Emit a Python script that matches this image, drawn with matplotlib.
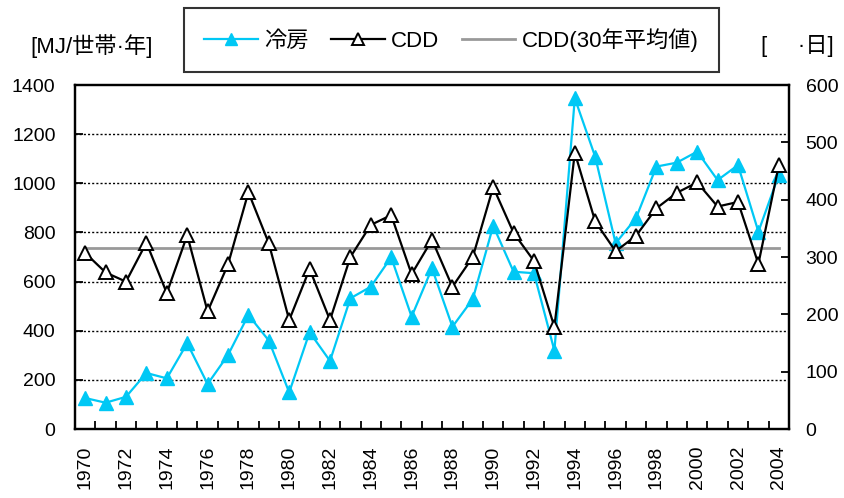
import matplotlib
matplotlib.use('Agg')
import matplotlib.pyplot as plt
import numpy as np

plt.rcParams['font.family'] = ['Liberation Sans', 'Noto Sans CJK JP', 'DejaVu Sans']

years = list(range(1970, 2005))

# cooling energy per household [MJ/household-year]
cooling = [126, 107, 131, 228, 206, 349, 183, 301, 464, 360,
           149, 394, 277, 532, 579, 699, 457, 654, 416, 529,
           827, 640, 634, 319, 1346, 1108, 756, 858, 1068, 1084,
           1129, 1013, 1074, 803, 1034]

# cooling degree days
cdd = [307, 273, 257, 325, 237, 338, 205, 287, 413, 324,
       190, 279, 190, 300, 356, 373, 270, 330, 248, 300,
       422, 342, 293, 178, 482, 362, 310, 337, 385, 412,
       430, 388, 396, 288, 460]

cdd_mean = 315

cyan = '#00C8F5'

fig = plt.figure(figsize=(8.44, 4.98), dpi=100)
ax = fig.add_axes([75 / 844, 1 - 429 / 498, (789 - 75) / 844, (429 - 85) / 498])
ax2 = ax.twinx()

x = np.arange(len(years))

l1, = ax.plot(x, cooling, color=cyan, lw=1.6, marker='^', markersize=10,
              markerfacecolor=cyan, markeredgecolor=cyan, label='冷房')
l3, = ax2.plot([x[0], x[-1]], [cdd_mean, cdd_mean], color='#999999', lw=2,
               label='CDD(30年平均値)')
l2, = ax2.plot(x, cdd, color='black', lw=1.6, marker='^', markersize=10,
               markerfacecolor='white', markeredgecolor='black', markeredgewidth=1.4,
               label='CDD')

ax.set_xlim(-0.5, len(years) - 0.5)
ax.set_ylim(0, 1400)
ax2.set_ylim(0, 600)

ax.set_yticks(range(0, 1401, 200))
ax2.set_yticks(range(0, 601, 100))
for v in range(200, 1400, 200):
    ax.axhline(v, color='black', lw=1, ls=(0, (1.5, 1.5)), zorder=0)

ax.set_xticks(x[::2])
ax.set_xticklabels([str(y) for y in years[::2]], rotation=90)
ax.set_xticks(np.arange(-0.5, len(years), 1), minor=True)

ax.tick_params(axis='x', which='major', length=0, pad=12, labelsize=14)
ax.tick_params(axis='x', which='minor', direction='in', length=6, width=1.3)
ax.tick_params(axis='y', direction='in', length=6, width=1.3, labelsize=14, pad=14)
ax2.tick_params(axis='y', direction='in', length=6, width=1.3, labelsize=14, pad=12)

for a in (ax, ax2):
    for s in a.spines.values():
        s.set_linewidth(1.6)

fig.text(92 / 844, 1 - 46 / 498, '[MJ/世帯·年]', ha='center', va='center', fontsize=16)
fig.text(797 / 844, 1 - 46 / 498, '[     ·日]', ha='center', va='center', fontsize=16)

leg = fig.legend(handles=[l1, l2, l3], ncol=3, loc='center',
                 bbox_to_anchor=((185 + 718) / 2 / 844, 1 - 40 / 498),
                 fontsize=16, frameon=True, fancybox=False, handlelength=2.4,
                 columnspacing=1.0, handletextpad=0.3, borderpad=0.9,
                 markerscale=0.9)
leg.get_frame().set_edgecolor('black')
leg.get_frame().set_linewidth(1.5)

fig.savefig('out.png', dpi=100)
